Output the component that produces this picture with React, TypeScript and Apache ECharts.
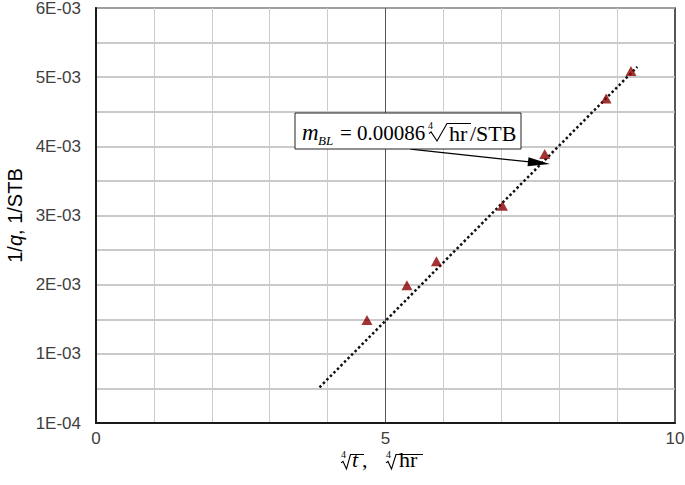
import React, { useEffect, useRef } from "react";
import * as echarts from "echarts";

const pointsX = [4.68, 5.37, 5.88, 7.02, 7.75, 8.81, 9.24];
const pointsY = [1.49e-3, 1.99e-3, 2.34e-3, 3.14e-3, 3.89e-3, 4.69e-3, 5.09e-3];
const trendX = [3.86, 9.35];
const trendY = [0.516e-3, 5.15e-3];
const arrowFrom = [5.43, 3.96e-3];
const arrowTo = [7.65, 3.76e-3];
const xTickLabels: Record<number, string> = { 0: "0", 5: "5", 10: "10" };
const yTickLabels = ["1E-04", "1E-03", "2E-03", "3E-03", "4E-03", "5E-03", "6E-03"];

const SANS = "'Liberation Sans', Arial, sans-serif";
const SERIF = "'Liberation Serif', 'Times New Roman', serif";

// text piece whose baseline sits at `base` (SVG central baseline ≈ 0.3375em above alphabetic)
function txt(text: string, x: number, base: number, size: number, italic = false) {
  return {
    type: "text",
    x,
    y: base - 0.3375 * size,
    z: 11,
    style: {
      text,
      fontFamily: SERIF,
      fontSize: size,
      fontStyle: italic ? "italic" : "normal",
      fill: "#000",
      align: "left",
      verticalAlign: "middle",
    },
  };
}

// radical sign: left x, bottom y, top y, x of the check's bottom, x where it reaches the top, overline end x
function radical(x: number, bottom: number, top: number, dx1: number, dx2: number, endX: number) {
  const h = bottom - top;
  return {
    type: "polyline",
    z: 11,
    shape: {
      points: [
        [x, bottom - 0.42 * h],
        [x + 2, bottom - 0.52 * h],
        [x + dx1, bottom],
        [x + dx2, top],
        [endX, top],
      ],
    },
    style: { stroke: "#000", lineWidth: 1.1, fill: null },
  };
}

export default function App() {
  const ref = useRef<HTMLDivElement>(null);
  useEffect(() => {
    if (!ref.current) return;
    const chart = echarts.init(ref.current, undefined, { renderer: "svg" });
    const option: any = {
      animation: false,
      backgroundColor: "#ffffff",
      grid: {
        left: 96,
        right: 10,
        top: 8,
        bottom: 62,
        outerBoundsMode: "none",
        containLabel: false,
        show: true,
        borderColor: "#222",
        borderWidth: 1.5,
      },
      xAxis: {
        type: "value",
        min: 0,
        max: 10,
        interval: 1,
        axisLine: { show: true, onZero: false, lineStyle: { color: "#1a1a1a", width: 2 } },
        axisTick: { show: false },
        axisLabel: {
          color: "#404040",
          fontFamily: SANS,
          fontSize: 17,
          margin: 7,
          formatter: (v: number) => xTickLabels[Math.round(v)] ?? "",
        },
        splitLine: {
          show: true,
          lineStyle: { color: ["#555", "#cccccc", "#cccccc", "#cccccc", "#cccccc"], width: 1 },
        },
      },
      yAxis: {
        type: "value",
        min: 0,
        max: 6e-3,
        interval: 0.5e-3,
        name: "1/{i|q}, 1/STB",
        nameLocation: "middle",
        nameRotate: 90,
        nameGap: 71,
        nameTextStyle: {
          fontFamily: SANS,
          fontSize: 20,
          color: "#000",
          rich: { i: { fontFamily: SANS, fontSize: 20, fontStyle: "italic", color: "#000" } },
        },
        axisLine: { show: true, onZero: false, lineStyle: { color: "#1a1a1a", width: 2 } },
        axisTick: { show: false },
        axisLabel: {
          color: "#404040",
          fontFamily: SANS,
          fontSize: 17,
          margin: 15,
          formatter: (v: number) => {
            const k = Math.round(v * 2000);
            if (k % 2 !== 0) return "";
            return yTickLabels[k / 2] ?? "";
          },
        },
        splitLine: { show: true, lineStyle: { color: "#b8b8b8", width: 1.5 } },
      },
      series: [
        {
          type: "line",
          data: trendX.map((x, i) => [x, trendY[i]]),
          showSymbol: false,
          symbol: "none",
          lineStyle: { color: "#111", width: 2.5, type: [2.5, 2.5] },
          z: 3,
          markLine: {
            silent: true,
            symbol: ["none", "triangle"],
            symbolSize: [9, 22],
            label: { show: false },
            lineStyle: { color: "#000", width: 1.3, type: "solid" },
            data: [[{ coord: arrowFrom }, { coord: arrowTo }]],
          },
        },
        {
          type: "scatter",
          data: pointsX.map((x, i) => [x, pointsY[i]]),
          symbol: "triangle",
          symbolSize: [11, 10],
          itemStyle: { color: "#8b0000" },
          z: 4,
        },
      ],
      graphic: [
        // annotation box
        {
          type: "rect",
          shape: { x: 295, y: 113, width: 226, height: 36 },
          style: { fill: "#fff", stroke: "#222", lineWidth: 1 },
          z: 10,
        },
        txt("m", 302, 140.5, 23, true),
        txt("BL", 318, 145, 13, true),
        txt("= 0.00086", 340, 140.5, 21),
        txt("4", 428, 129, 10),
        radical(429, 141, 123.5, 8, 18, 471),
        txt("hr", 449, 140.5, 22),
        txt("/STB", 470, 140.5, 22),
        // x-axis name
        txt("4", 341, 458, 10),
        radical(341, 469, 454.5, 5.5, 9.5, 364),
        txt("t", 352, 467, 22, true),
        txt(",", 362, 467, 22),
        txt("4", 386, 458, 10),
        radical(386, 469, 454.5, 5.5, 10, 423),
        txt("hr", 399, 467, 22),
      ],
    };
    chart.setOption(option);
    return () => chart.dispose();
  }, []);
  return <div ref={ref} style={{ width: 685, height: 485, position: "absolute", left: 0, top: 0 }} />;
}
